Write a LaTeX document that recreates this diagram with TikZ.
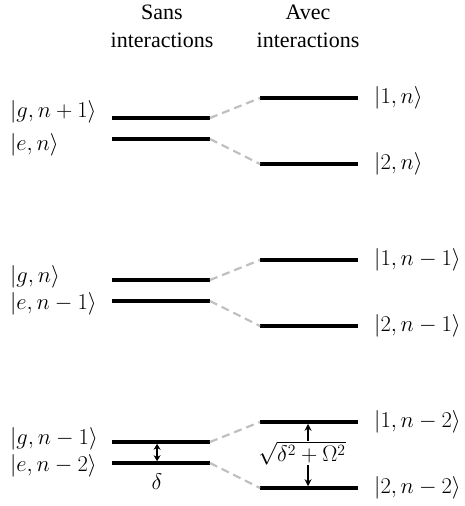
\documentclass[tikz,border=0pt]{standalone}
\usepackage{fontspec}
\setmainfont{Liberation Serif}
\usetikzlibrary{arrows.meta,calc}
\tikzset{
  etat/.style={line width=3.6pt},
  lien/.style={line width=2.2pt,draw=black!25,dash pattern=on 8pt off 5pt},
  fleche/.style={line width=1.5pt,-{Stealth[length=7pt,width=7pt]}},
  ket/.style={font=\huge,scale=1.09,transform shape,inner sep=0pt},
  titre/.style={font=\fontsize{22}{28}\selectfont,align=center,inner sep=0pt}
}

\begin{document}
\begin{tikzpicture}[x=1pt,y=-1pt]
    \useasboundingbox (0,0) rectangle (464,506);
    \node[titre] (sans) at (162,26) {Sans\\interactions};
    \node[titre] (avec) at (308,26) {Avec\\interactions};
    \foreach \i/\dy/\ga/\gb/\u/\lo in {1/0/n+1/n/n/6,
                                       2/162/n/n-1/n-1/3,
                                       3/324/n-1/n-2/n-2/3}{
      % niveaux sans interactions
      \draw[etat] (112,118+\dy) coordinate (g\i w) -- (210,118+\dy) coordinate (g\i e);
      \draw[etat] (112,139+\dy) coordinate (e\i w) -- (210,139+\dy) coordinate (e\i e);
      % niveaux avec interactions
      \draw[etat] (260,98+\dy) coordinate (p\i w) -- (358,98+\dy) coordinate (p\i e);
      \draw[etat] (260,164+\dy) coordinate (m\i w) -- (358,164+\dy) coordinate (m\i e);
      \draw[lien] (g\i e) -- (p\i w);
      \draw[lien] (e\i e) -- (m\i w);
      \node[ket,anchor=west] (kg\i) at (10,118-\lo+\dy) {$|g,\ga\rangle$};
      \node[ket,anchor=west] (ke\i) at (10,139+\lo+\dy) {$|e,\gb\rangle$};
      \node[ket,anchor=west] (k1\i) at (374,98+\dy) {$|1,\u\rangle$};
      \node[ket,anchor=west] (k2\i) at (374,164+\dy) {$|2,\u\rangle$};
    }
    % ecarts
    \draw[fleche,{Stealth[length=6pt,width=7pt]}-{Stealth[length=6pt,width=7pt]},shorten <=1.8pt,shorten >=1.8pt]
      ($(g3w)!.46!(g3e)$) -- ($(e3w)!.46!(e3e)$);
    \node[ket] (delta) at (157,482) {$\delta$};
    \coordinate (haut) at ($(p3w)!.49!(p3e)$);
    \coordinate (bas) at ($(m3w)!.49!(m3e)$);
    \node[ket] (racine) at (302,453) {$\sqrt{\delta^2+\Omega^2}$};
    \draw[fleche,shorten >=1.8pt] (racine.north -| haut) -- (haut);
    \draw[fleche,shorten >=1.8pt] (racine.south -| bas) -- (bas);
\end{tikzpicture}
\end{document}
